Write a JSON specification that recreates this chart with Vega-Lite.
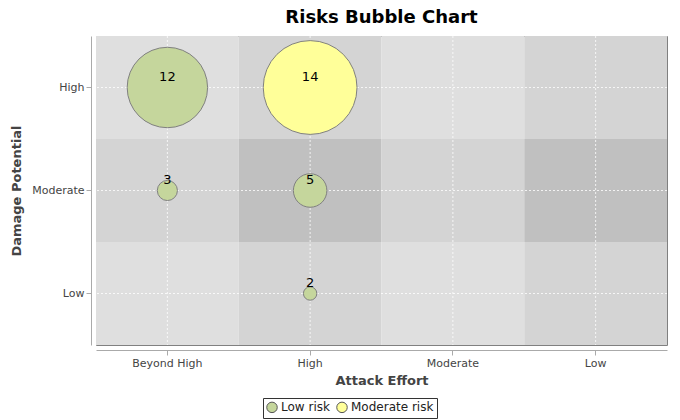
{
  "$schema": "https://vega.github.io/schema/vega-lite/v6.json",
  "width": 571,
  "height": 309,
  "autosize": "none",
  "padding": {"left": 96, "top": 36, "right": 13, "bottom": 75},
  "background": "white",
  "title": {"text": "Risks Bubble Chart", "font": "DejaVu Sans", "fontSize": 18, "fontWeight": "bold", "color": "black", "offset": 9},
  "config": {
    "font": "DejaVu Sans",
    "view": {"stroke": "#808080", "strokeWidth": 1},
    "axis": {"labelFont": "DejaVu Sans", "labelFontSize": 11, "labelColor": "#444", "titleFont": "DejaVu Sans", "titleFontSize": 13, "titleColor": "#444", "titleFontWeight": 600, "domainColor": "#aaa", "tickColor": "#aaa", "grid": false, "offset": 5}
  },
  "datasets": {
    "cells": [
      {"effort": "Beyond High", "damage": "High", "shade": "L"},
      {"effort": "High", "damage": "High", "shade": "M"},
      {"effort": "Moderate", "damage": "High", "shade": "L"},
      {"effort": "Low", "damage": "High", "shade": "M"},
      {"effort": "Beyond High", "damage": "Moderate", "shade": "M"},
      {"effort": "High", "damage": "Moderate", "shade": "D"},
      {"effort": "Moderate", "damage": "Moderate", "shade": "M"},
      {"effort": "Low", "damage": "Moderate", "shade": "D"},
      {"effort": "Beyond High", "damage": "Low", "shade": "L"},
      {"effort": "High", "damage": "Low", "shade": "M"},
      {"effort": "Moderate", "damage": "Low", "shade": "L"},
      {"effort": "Low", "damage": "Low", "shade": "M"}
    ],
    "risks": [
      {"effort": "Beyond High", "damage": "High", "count": 12, "risk": "Low risk"},
      {"effort": "High", "damage": "High", "count": 14, "risk": "Moderate risk"},
      {"effort": "Beyond High", "damage": "Moderate", "count": 3, "risk": "Low risk"},
      {"effort": "High", "damage": "Moderate", "count": 5, "risk": "Low risk"},
      {"effort": "High", "damage": "Low", "count": 2, "risk": "Low risk"}
    ],
    "xs": [{"effort": "Beyond High"}, {"effort": "High"}, {"effort": "Moderate"}, {"effort": "Low"}],
    "ys": [{"damage": "High"}, {"damage": "Moderate"}, {"damage": "Low"}]
  },
  "resolve": {"scale": {"color": "independent"}},
  "layer": [
    {
      "data": {"name": "cells"},
      "mark": {"type": "rect"},
      "encoding": {
        "x": {"field": "effort", "type": "nominal", "sort": ["Beyond High", "High", "Moderate", "Low"], "scale": {"paddingInner": 0, "paddingOuter": 0}, "title": "Attack Effort", "axis": {"labelAngle": 0, "bandPosition": 0.5, "labelPadding": 2, "titlePadding": 6}},
        "y": {"field": "damage", "type": "nominal", "sort": ["High", "Moderate", "Low"], "scale": {"paddingInner": 0, "paddingOuter": 0}, "title": "Damage Potential", "axis": {"bandPosition": 0.5, "titlePadding": 8}},
        "color": {"field": "shade", "type": "nominal", "scale": {"domain": ["L", "M", "D"], "range": ["#dfdfdf", "#d4d4d4", "#c0c0c0"]}, "legend": null}
      }
    },
    {
      "data": {"name": "xs"},
      "mark": {"type": "rule", "color": "white", "strokeDash": [2, 2], "strokeWidth": 0.8},
      "encoding": {"x": {"field": "effort", "type": "nominal", "sort": ["Beyond High", "High", "Moderate", "Low"]}}
    },
    {
      "data": {"name": "ys"},
      "mark": {"type": "rule", "color": "white", "strokeDash": [2, 2], "strokeWidth": 0.8},
      "encoding": {"y": {"field": "damage", "type": "nominal", "sort": ["High", "Moderate", "Low"]}}
    },
    {
      "data": {"name": "risks"},
      "mark": {"type": "circle", "opacity": 1, "stroke": "#808080", "strokeWidth": 1},
      "encoding": {
        "x": {"field": "effort", "type": "nominal", "sort": ["Beyond High", "High", "Moderate", "Low"]},
        "y": {"field": "damage", "type": "nominal", "sort": ["High", "Moderate", "Low"]},
        "size": {"field": "count", "type": "quantitative", "scale": {"type": "pow", "exponent": 2, "domain": [0, 14], "range": [0, 8800]}, "legend": null},
        "color": {"field": "risk", "type": "nominal", "scale": {"domain": ["Low risk", "Moderate risk"], "range": ["#c5d69c", "#ffff99"]}, "legend": {"orient": "none", "legendX": 167, "legendY": 362, "direction": "horizontal", "title": null, "strokeColor": "#333", "padding": 3, "labelFont": "DejaVu Sans", "labelFontSize": 12, "labelColor": "#222", "symbolType": "circle", "symbolStrokeColor": "#555", "symbolStrokeWidth": 1, "symbolSize": 110, "columnPadding": 4, "labelOffset": 3, "cornerRadius": 0, "fillColor": "white"}}
      }
    },
    {
      "data": {"name": "risks"},
      "mark": {"type": "text", "dy": -11, "fontSize": 13, "color": "black", "font": "DejaVu Sans"},
      "encoding": {
        "x": {"field": "effort", "type": "nominal", "sort": ["Beyond High", "High", "Moderate", "Low"]},
        "y": {"field": "damage", "type": "nominal", "sort": ["High", "Moderate", "Low"]},
        "text": {"field": "count", "type": "quantitative"}
      }
    }
  ]
}
